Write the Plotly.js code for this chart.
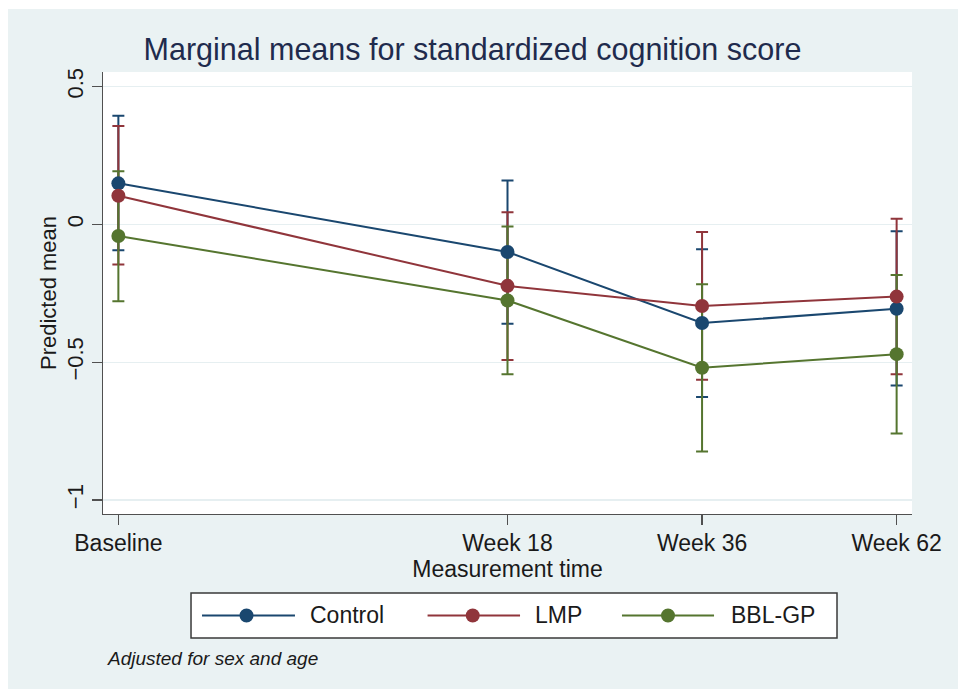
<!DOCTYPE html>
<html>
<head>
<meta charset="utf-8">
<script src="https://cdn.plot.ly/plotly-3.0.1.min.js"></script>
<style>
  html, body { margin: 0; padding: 0; background: #ffffff; }
  #chart { position: absolute; left: 8px; top: 9px; width: 950px; height: 680px; }
</style>
</head>
<body>
<div id="chart"></div>
<script>
// ---- data ----
var timeLabels = ["Baseline", "Week 18", "Week 36", "Week 62"];
var timePos = [0, 2, 3, 4];            // categorical positions as plotted (equal spacing after Week 18)
var yTickVals = [0.5, 0, -0.5, -1];
var yTickText = ["0.5", "0", "\u22120.5", "\u22121"];

var groups = ["Control", "LMP", "BBL-GP"];

var controlMean  = [0.149, -0.100, -0.358, -0.306];
var controlUpper = [0.394,  0.159, -0.090, -0.025];
var controlLower = [-0.094, -0.361, -0.626, -0.585];

var lmpMean  = [0.104, -0.223, -0.296, -0.262];
var lmpUpper = [0.357,  0.044, -0.028,  0.020];
var lmpLower = [-0.146, -0.492, -0.564, -0.544];

var bblMean  = [-0.042, -0.276, -0.520, -0.471];
var bblUpper = [0.193, -0.008, -0.217, -0.184];
var bblLower = [-0.279, -0.544, -0.824, -0.759];

var colors = ["#1A476F", "#90353B", "#55752F"];

var means  = [controlMean, lmpMean, bblMean];
var uppers = [controlUpper, lmpUpper, bblUpper];
var lowers = [controlLower, lmpLower, bblLower];

var FONT = "Liberation Sans, Arial, Helvetica, sans-serif";
var traces = [];

// confidence interval caps first (drawn beneath all lines/markers)
for (var g = 0; g < groups.length; g++) {
  var plus = [], minus = [];
  for (var i = 0; i < timePos.length; i++) {
    plus.push(uppers[g][i] - means[g][i]);
    minus.push(means[g][i] - lowers[g][i]);
  }
  traces.push({
    x: timePos, y: means[g], type: "scatter", mode: "markers",
    name: groups[g] + " CI", showlegend: false, hoverinfo: "skip",
    marker: { size: 2, opacity: 0, color: colors[g] },
    error_y: { type: "data", symmetric: false, array: plus, arrayminus: minus,
               color: colors[g], thickness: 2, width: 6 }
  });
}
// lines + markers
for (var g2 = 0; g2 < groups.length; g2++) {
  traces.push({
    x: timePos, y: means[g2], type: "scatter", mode: "lines+markers",
    name: groups[g2], showlegend: false,
    line: { color: colors[g2], width: 2 },
    marker: { color: colors[g2], size: 14 }
  });
}

// ---- custom legend (matching the long legend keys of the reference) ----
var shapes = [];
var annotations = [];
shapes.push({ type: "rect", xref: "paper", yref: "paper",
  x0: 0.1088, x1: 0.9073, y0: -0.1787, y1: -0.2805,
  line: { color: "#3a3a3a", width: 1.5 }, fillcolor: "#ffffff", layer: "above" });
var legLineX = [[0.1224, 0.2373], [0.4012, 0.5155], [0.6415, 0.7553]];
var legMarkX = [0.1774, 0.4570, 0.6984];
var legTextX = [0.2530, 0.5310, 0.7740];
var legY = -0.2296;
for (var k = 0; k < groups.length; k++) {
  shapes.push({ type: "line", xref: "paper", yref: "paper",
    x0: legLineX[k][0], x1: legLineX[k][1], y0: legY, y1: legY,
    line: { color: colors[k], width: 2 }, layer: "above" });
  shapes.push({ type: "circle", xref: "paper", yref: "paper",
    xsizemode: "pixel", ysizemode: "pixel",
    xanchor: legMarkX[k], yanchor: legY, x0: -7, x1: 7, y0: -7, y1: 7,
    fillcolor: colors[k], line: { color: colors[k], width: 0 }, layer: "above" });
  annotations.push({ xref: "paper", yref: "paper", x: legTextX[k], y: legY,
    xanchor: "left", yanchor: "middle", showarrow: false, text: groups[k],
    font: { family: FONT, size: 23, color: "#1a1a1a" } });
}
annotations.push({ xref: "paper", yref: "paper", x: 0.0030, y: -0.328,
  xanchor: "left", yanchor: "middle", showarrow: false,
  text: "<i>Adjusted for sex and age</i>",
  font: { family: FONT, size: 19, color: "#1a1a1a" } });

var layout = {
  width: 950, height: 680,
  paper_bgcolor: "#EAF2F3", plot_bgcolor: "#ffffff",
  margin: { l: 95, r: 46, t: 63, b: 175 },
  showlegend: false,
  title: { text: "Marginal means for standardized cognition score",
    font: { family: FONT, size: 30.5, color: "#1f2b4d" },
    xref: "paper", x: 0.4567, xanchor: "center",
    yref: "container", y: 0.94, yanchor: "middle" },
  xaxis: {
    range: [-0.079, 4.079], tickvals: timePos, ticktext: timeLabels,
    showgrid: false, zeroline: false,
    showline: true, linecolor: "#505050", linewidth: 1.3,
    ticks: "outside", ticklen: 10, tickcolor: "#505050", tickwidth: 1.3,
    ticklabelstandoff: -2,
    tickfont: { family: FONT, size: 23, color: "#1a1a1a" },
    title: { text: "Measurement time", standoff: 0,
      font: { family: FONT, size: 23, color: "#1a1a1a" } },
    fixedrange: true
  },
  yaxis: {
    range: [-1.051, 0.553], tickvals: yTickVals, ticktext: yTickText,
    tickangle: -90,
    showgrid: true, gridcolor: "#E6EFF1", gridwidth: 1.3, zeroline: false,
    showline: true, linecolor: "#505050", linewidth: 1.3,
    ticks: "outside", ticklen: 10, tickcolor: "#505050", tickwidth: 1.3,
    tickfont: { family: FONT, size: 22, color: "#1a1a1a" },
    title: { text: "Predicted mean", standoff: 0,
      font: { family: FONT, size: 22, color: "#1a1a1a" } },
    fixedrange: true
  },
  shapes: shapes,
  annotations: annotations
};

Plotly.newPlot("chart", traces, layout, { displayModeBar: false, staticPlot: true });
</script>
</body>
</html>
